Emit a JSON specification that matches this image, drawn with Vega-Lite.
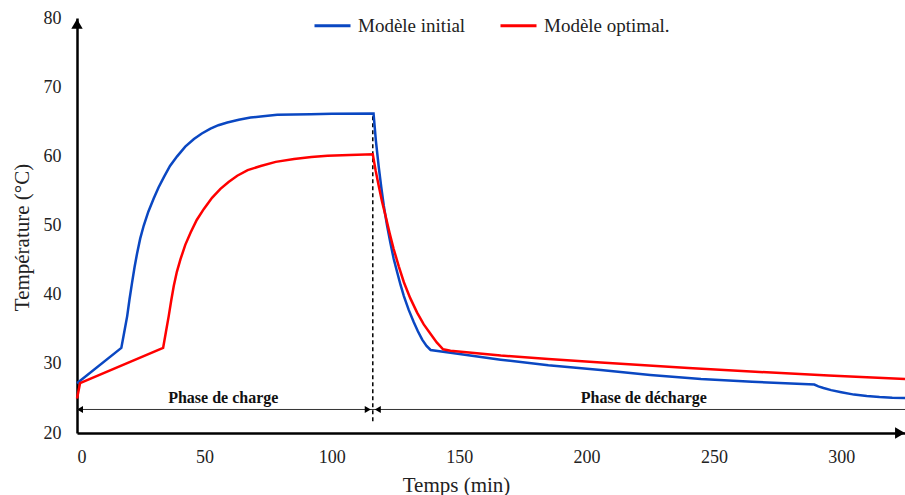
{
  "$schema": "https://vega.github.io/schema/vega-lite/v6.json",
  "width": 828,
  "height": 415,
  "autosize": {"type": "none"},
  "padding": {"left": 77, "top": 18, "right": 0, "bottom": 62},
  "background": "white",
  "config": {
    "view": {"stroke": null},
    "font": "Liberation Serif",
    "axis": {"labelFont": "Liberation Serif", "titleFont": "Liberation Serif"},
    "text": {"font": "Liberation Serif"}
  },
  "datasets": {
    "courbes": [
      {"t": 0, "T": 27.2, "serie": "Modèle initial"},
      {"t": 17.4, "T": 32.3, "serie": "Modèle initial"},
      {"t": 18.5, "T": 34.5, "serie": "Modèle initial"},
      {"t": 19.7, "T": 36.9, "serie": "Modèle initial"},
      {"t": 20.6, "T": 39.3, "serie": "Modèle initial"},
      {"t": 21.6, "T": 41.7, "serie": "Modèle initial"},
      {"t": 22.6, "T": 44.0, "serie": "Modèle initial"},
      {"t": 23.6, "T": 46.0, "serie": "Modèle initial"},
      {"t": 24.8, "T": 48.1, "serie": "Modèle initial"},
      {"t": 26.2, "T": 50.0, "serie": "Modèle initial"},
      {"t": 28.0, "T": 52.0, "serie": "Modèle initial"},
      {"t": 30.1, "T": 53.9, "serie": "Modèle initial"},
      {"t": 32.0, "T": 55.5, "serie": "Modèle initial"},
      {"t": 34.1, "T": 57.0, "serie": "Modèle initial"},
      {"t": 36.5, "T": 58.6, "serie": "Modèle initial"},
      {"t": 39.3, "T": 60.0, "serie": "Modèle initial"},
      {"t": 42.5, "T": 61.4, "serie": "Modèle initial"},
      {"t": 45.9, "T": 62.5, "serie": "Modèle initial"},
      {"t": 49.0, "T": 63.3, "serie": "Modèle initial"},
      {"t": 52.4, "T": 64.0, "serie": "Modèle initial"},
      {"t": 55.5, "T": 64.5, "serie": "Modèle initial"},
      {"t": 59.0, "T": 64.9, "serie": "Modèle initial"},
      {"t": 63.5, "T": 65.3, "serie": "Modèle initial"},
      {"t": 68.1, "T": 65.6, "serie": "Modèle initial"},
      {"t": 73.0, "T": 65.8, "serie": "Modèle initial"},
      {"t": 78.6, "T": 66.0, "serie": "Modèle initial"},
      {"t": 85.0, "T": 66.05, "serie": "Modèle initial"},
      {"t": 91.7, "T": 66.1, "serie": "Modèle initial"},
      {"t": 100.0, "T": 66.15, "serie": "Modèle initial"},
      {"t": 116.4, "T": 66.2, "serie": "Modèle initial"},
      {"t": 117.3, "T": 62.3, "serie": "Modèle initial"},
      {"t": 118.4, "T": 58.6, "serie": "Modèle initial"},
      {"t": 119.4, "T": 55.6, "serie": "Modèle initial"},
      {"t": 120.4, "T": 52.9, "serie": "Modèle initial"},
      {"t": 121.7, "T": 50.0, "serie": "Modèle initial"},
      {"t": 123.0, "T": 47.5, "serie": "Modèle initial"},
      {"t": 124.3, "T": 45.2, "serie": "Modèle initial"},
      {"t": 125.7, "T": 43.2, "serie": "Modèle initial"},
      {"t": 127.0, "T": 41.4, "serie": "Modèle initial"},
      {"t": 128.3, "T": 39.8, "serie": "Modèle initial"},
      {"t": 130.2, "T": 37.8, "serie": "Modèle initial"},
      {"t": 132.2, "T": 36.0, "serie": "Modèle initial"},
      {"t": 133.8, "T": 34.7, "serie": "Modèle initial"},
      {"t": 135.5, "T": 33.5, "serie": "Modèle initial"},
      {"t": 137.2, "T": 32.6, "serie": "Modèle initial"},
      {"t": 138.8, "T": 32.0, "serie": "Modèle initial"},
      {"t": 146.6, "T": 31.6, "serie": "Modèle initial"},
      {"t": 166.3, "T": 30.6, "serie": "Modèle initial"},
      {"t": 185.0, "T": 29.8, "serie": "Modèle initial"},
      {"t": 205.6, "T": 29.1, "serie": "Modèle initial"},
      {"t": 225.0, "T": 28.4, "serie": "Modèle initial"},
      {"t": 244.9, "T": 27.8, "serie": "Modèle initial"},
      {"t": 265.0, "T": 27.4, "serie": "Modèle initial"},
      {"t": 289.4, "T": 27.0, "serie": "Modèle initial"},
      {"t": 291.0, "T": 26.75, "serie": "Modèle initial"},
      {"t": 293.0, "T": 26.5, "serie": "Modèle initial"},
      {"t": 296.0, "T": 26.2, "serie": "Modèle initial"},
      {"t": 300.0, "T": 25.9, "serie": "Modèle initial"},
      {"t": 305.0, "T": 25.55, "serie": "Modèle initial"},
      {"t": 310.0, "T": 25.35, "serie": "Modèle initial"},
      {"t": 315.0, "T": 25.2, "serie": "Modèle initial"},
      {"t": 320.0, "T": 25.1, "serie": "Modèle initial"},
      {"t": 325.0, "T": 25.05, "serie": "Modèle initial"},
      {"t": 0, "T": 25.0, "serie": "Modèle optimal."},
      {"t": 1.2, "T": 27.2, "serie": "Modèle optimal."},
      {"t": 33.8, "T": 32.3, "serie": "Modèle optimal."},
      {"t": 34.9, "T": 34.6, "serie": "Modèle optimal."},
      {"t": 36.0, "T": 36.9, "serie": "Modèle optimal."},
      {"t": 37.0, "T": 39.2, "serie": "Modèle optimal."},
      {"t": 38.0, "T": 41.3, "serie": "Modèle optimal."},
      {"t": 39.2, "T": 43.3, "serie": "Modèle optimal."},
      {"t": 40.6, "T": 45.1, "serie": "Modèle optimal."},
      {"t": 42.5, "T": 47.2, "serie": "Modèle optimal."},
      {"t": 44.6, "T": 49.0, "serie": "Modèle optimal."},
      {"t": 47.0, "T": 50.8, "serie": "Modèle optimal."},
      {"t": 49.8, "T": 52.4, "serie": "Modèle optimal."},
      {"t": 53.0, "T": 54.0, "serie": "Modèle optimal."},
      {"t": 56.3, "T": 55.3, "serie": "Modèle optimal."},
      {"t": 59.5, "T": 56.3, "serie": "Modèle optimal."},
      {"t": 62.9, "T": 57.2, "serie": "Modèle optimal."},
      {"t": 67.0, "T": 58.0, "serie": "Modèle optimal."},
      {"t": 72.1, "T": 58.6, "serie": "Modèle optimal."},
      {"t": 78.0, "T": 59.2, "serie": "Modèle optimal."},
      {"t": 85.2, "T": 59.6, "serie": "Modèle optimal."},
      {"t": 92.0, "T": 59.9, "serie": "Modèle optimal."},
      {"t": 98.3, "T": 60.1, "serie": "Modèle optimal."},
      {"t": 107.0, "T": 60.2, "serie": "Modèle optimal."},
      {"t": 116.1, "T": 60.3, "serie": "Modèle optimal."},
      {"t": 117.2, "T": 58.0, "serie": "Modèle optimal."},
      {"t": 118.4, "T": 55.8, "serie": "Modèle optimal."},
      {"t": 119.7, "T": 53.5, "serie": "Modèle optimal."},
      {"t": 121.1, "T": 51.4, "serie": "Modèle optimal."},
      {"t": 122.7, "T": 48.9, "serie": "Modèle optimal."},
      {"t": 124.3, "T": 46.6, "serie": "Modèle optimal."},
      {"t": 126.3, "T": 44.1, "serie": "Modèle optimal."},
      {"t": 128.3, "T": 41.8, "serie": "Modèle optimal."},
      {"t": 130.8, "T": 39.5, "serie": "Modèle optimal."},
      {"t": 133.5, "T": 37.4, "serie": "Modèle optimal."},
      {"t": 136.1, "T": 35.7, "serie": "Modèle optimal."},
      {"t": 138.8, "T": 34.3, "serie": "Modèle optimal."},
      {"t": 141.2, "T": 33.1, "serie": "Modèle optimal."},
      {"t": 143.7, "T": 32.1, "serie": "Modèle optimal."},
      {"t": 146.6, "T": 31.9, "serie": "Modèle optimal."},
      {"t": 166.3, "T": 31.2, "serie": "Modèle optimal."},
      {"t": 185.0, "T": 30.7, "serie": "Modèle optimal."},
      {"t": 205.6, "T": 30.2, "serie": "Modèle optimal."},
      {"t": 240.0, "T": 29.4, "serie": "Modèle optimal."},
      {"t": 264.5, "T": 28.9, "serie": "Modèle optimal."},
      {"t": 295.0, "T": 28.3, "serie": "Modèle optimal."},
      {"t": 325.0, "T": 27.8, "serie": "Modèle optimal."}
    ]
  },
  "layer": [
    {
      "data": {"values": [{}]},
      "mark": {"type": "rule", "strokeDash": [4, 3], "strokeWidth": 1.5, "color": "#000000"},
      "encoding": {
        "x": {"datum": 116.1, "type": "quantitative"},
        "y": {"datum": 21.7, "type": "quantitative"},
        "y2": {"datum": 66.1}
      }
    },
    {
      "data": {"values": [{}]},
      "mark": {"type": "rule", "strokeWidth": 1, "color": "#333333"},
      "encoding": {
        "x": {"datum": 0, "type": "quantitative"},
        "x2": {"datum": 325},
        "y": {"datum": 23.4, "type": "quantitative"}
      }
    },
    {
      "data": {"values": [{}]},
      "mark": {"type": "point", "shape": "triangle-left", "filled": true, "size": 49, "color": "#000000", "opacity": 1, "xOffset": 3},
      "encoding": {
        "x": {"datum": 0, "type": "quantitative"},
        "y": {"datum": 23.4, "type": "quantitative"}
      }
    },
    {
      "data": {"values": [{}]},
      "mark": {"type": "point", "shape": "triangle-right", "filled": true, "size": 49, "color": "#000000", "opacity": 1, "xOffset": -5},
      "encoding": {
        "x": {"datum": 116.1, "type": "quantitative"},
        "y": {"datum": 23.4, "type": "quantitative"}
      }
    },
    {
      "data": {"values": [{}]},
      "mark": {"type": "point", "shape": "triangle-left", "filled": true, "size": 49, "color": "#000000", "opacity": 1, "xOffset": 5},
      "encoding": {
        "x": {"datum": 116.1, "type": "quantitative"},
        "y": {"datum": 23.4, "type": "quantitative"}
      }
    },
    {
      "data": {"values": [{}]},
      "mark": {"type": "text", "font": "Liberation Serif", "fontSize": 16, "fontWeight": "bold", "color": "#111111", "baseline": "alphabetic", "align": "center"},
      "encoding": {
        "x": {"datum": 57.4, "type": "quantitative"},
        "y": {"datum": 24.3, "type": "quantitative"},
        "text": {"value": "Phase de charge"}
      }
    },
    {
      "data": {"values": [{}]},
      "mark": {"type": "text", "font": "Liberation Serif", "fontSize": 16, "fontWeight": "bold", "color": "#111111", "baseline": "alphabetic", "align": "center"},
      "encoding": {
        "x": {"datum": 222.5, "type": "quantitative"},
        "y": {"datum": 24.3, "type": "quantitative"},
        "text": {"value": "Phase de décharge"}
      }
    },
    {
      "data": {"name": "courbes"},
      "mark": {"type": "line", "strokeWidth": 2.5, "interpolate": "linear"},
      "encoding": {
        "x": {
          "field": "t",
          "type": "quantitative",
          "scale": {"domain": [0, 325], "nice": false, "zero": false},
          "axis": {
            "title": "Temps (min)",
            "values": [0, 50, 100, 150, 200, 250, 300],
            "grid": false,
            "ticks": false,
            "tickSize": 0,
            "domainColor": "#000000",
            "domainWidth": 2.5,
            "labelFont": "Liberation Serif",
            "labelFontSize": 18,
            "labelColor": "#222222",
            "labelPadding": 15,
            "titleFont": "Liberation Serif",
            "titleFontSize": 21,
            "titleFontWeight": "normal",
            "titleColor": "#222222",
            "titleX": 379,
            "titleY": 58,
            "titleAlign": "center",
            "titleBaseline": "alphabetic",
            "titleAnchor": null,
            "encode": {
              "labels": {"update": {"font": {"value": "Liberation Serif"}}},
              "title": {"update": {"font": {"value": "Liberation Serif"}}}
            }
          }
        },
        "y": {
          "field": "T",
          "type": "quantitative",
          "scale": {"domain": [20, 80], "nice": false, "zero": false},
          "axis": {
            "title": "Température (°C)",
            "values": [20, 30, 40, 50, 60, 70, 80],
            "grid": false,
            "ticks": false,
            "tickSize": 0,
            "domainColor": "#000000",
            "domainWidth": 2.5,
            "labelFont": "Liberation Serif",
            "labelFontSize": 18,
            "labelColor": "#222222",
            "labelPadding": 16,
            "titleFont": "Liberation Serif",
            "titleFontSize": 21,
            "titleFontWeight": "normal",
            "titleColor": "#222222",
            "titleX": -55,
            "titleY": 219,
            "titleAngle": -90,
            "titleAlign": "center",
            "titleBaseline": "middle",
            "titleAnchor": null,
            "encode": {
              "labels": {"update": {"font": {"value": "Liberation Serif"}}},
              "title": {"update": {"font": {"value": "Liberation Serif"}}}
            }
          }
        },
        "color": {
          "field": "serie",
          "type": "nominal",
          "scale": {"domain": ["Modèle initial", "Modèle optimal."], "range": ["#0a47c2", "#ff0000"]},
          "legend": {
            "title": null,
            "orient": "none",
            "direction": "horizontal",
            "legendX": 236,
            "legendY": -12,
            "symbolType": "stroke",
            "symbolSize": 1296,
            "symbolStrokeWidth": 3,
            "labelFont": "Liberation Serif",
            "labelFontSize": 19,
            "labelColor": "#222222",
            "labelOffset": 6,
            "columnPadding": 28,
            "padding": 0
          }
        }
      }
    },
    {
      "data": {"values": [{}]},
      "mark": {"type": "point", "shape": "triangle-up", "filled": true, "size": 130, "color": "#000000", "opacity": 1, "yOffset": 5.9},
      "encoding": {
        "x": {"datum": 0, "type": "quantitative"},
        "y": {"datum": 80, "type": "quantitative"}
      }
    },
    {
      "data": {"values": [{}]},
      "mark": {"type": "point", "shape": "triangle-right", "filled": true, "size": 130, "color": "#000000", "opacity": 1, "xOffset": -5},
      "encoding": {
        "x": {"datum": 325, "type": "quantitative"},
        "y": {"datum": 20, "type": "quantitative"}
      }
    }
  ]
}
